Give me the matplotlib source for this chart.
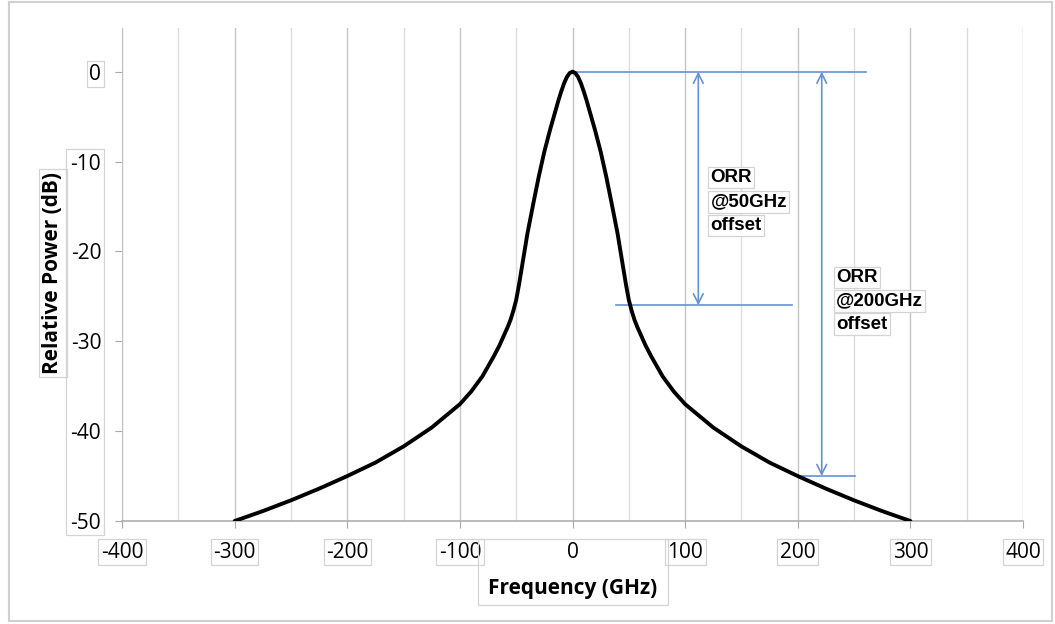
import matplotlib.pyplot as plt
from matplotlib.patches import Rectangle
from matplotlib.ticker import MultipleLocator

plt.rcParams['axes.unicode_minus'] = False

# ─── Data ────────────────────────────────────────────────────────────────────

freq = [-300, -275, -250, -225, -200, -175, -150, -125, -100, -90, -80, -70,
        -65, -60, -57.5, -55, -52.5, -50, -47.5, -45, -42.5, -40, -35, -30,
        -25, -20, -15, -12.5, -10, -7.5, -5, -2.5, 0,
        2.5, 5, 7.5, 10, 12.5, 15, 20, 25, 30, 35, 40, 42.5, 45, 47.5, 50,
        52.5, 55, 57.5, 60, 65, 70, 80, 90, 100, 125, 150, 175, 200, 225,
        250, 275, 300]
power = [-50.0, -48.9, -47.7, -46.4, -45.0, -43.5, -41.7, -39.6, -37.0, -35.6, -33.9, -31.7,
         -30.5, -29.1, -28.4, -27.6, -26.6, -25.4, -23.7, -21.8, -19.9, -18.0, -14.8, -11.7,
         -8.9, -6.5, -4.3, -3.2, -2.2, -1.3, -0.6, -0.15, 0.0,
         -0.15, -0.6, -1.3, -2.2, -3.2, -4.3, -6.5, -8.9, -11.7, -14.8, -18.0, -19.9, -21.8,
         -23.7, -25.4, -26.6, -27.6, -28.4, -29.1, -30.5, -31.7, -33.9, -35.6, -37.0,
         -39.6, -41.7, -43.5, -45.0, -46.4, -47.7, -48.9, -50.0]

x_ticks = [-400, -300, -200, -100, 0, 100, 200, 300, 400]
y_ticks = [0, -10, -20, -30, -40, -50]

# ORR markers: offset (GHz), rejection level (dB)
orr_offsets = [50, 200]
orr_levels = [-26, -45]
orr_labels = [['ORR', '@50GHz', 'offset'], ['ORR', '@200GHz', 'offset']]

# ─── Style ───────────────────────────────────────────────────────────────────

azul = '#6592d2'
borda = '#d4d4d4'
caixa = dict(boxstyle='square,pad=0.12', fc='white', ec=borda, lw=0.9)
caixa_rot = dict(boxstyle='square,pad=0.15', fc='white', ec=borda, lw=0.9)

W, H = 1055, 624
fig = plt.figure(figsize=(W / 100, H / 100), dpi=100)
ax = fig.add_axes([122 / W, 1 - 521 / H, 901 / W, 493 / H])


def caixa_px(x0, y0, x1, y1):
    """Retângulo em pixels (origem no topo esquerdo)."""
    fig.patches.append(Rectangle((x0, H - y1), x1 - x0, y1 - y0, transform=None,
                                 fill=False, ec=borda, lw=0.9, zorder=0))


fig.patches.append(Rectangle((9, 3), 1043, 619, transform=None, fill=False,
                             ec='#d0d0d0', lw=1.5))
# caixas agrupadas que o Excel desenhou em volta dos rótulos
caixa_px(65.7, 149, 104, 535)
caixa_px(478, 539, 668, 605)

# ─── Curve ───────────────────────────────────────────────────────────────────

ax.plot(freq, power, color='black', lw=2.8, solid_capstyle='round',
        solid_joinstyle='round', zorder=4)

ax.set_xlim(-400, 400)
ax.set_ylim(-50, 4.86)
ax.set_xticks(x_ticks)
ax.set_yticks(y_ticks)
ax.xaxis.set_minor_locator(MultipleLocator(50))

ax.grid(True, axis='x', which='major', color='#c4c4c4', lw=1.0)
ax.grid(True, axis='x', which='minor', color='#dcdcdc', lw=1.0)
ax.set_axisbelow(True)

for s in ['top', 'right']:
    ax.spines[s].set_visible(False)
ax.spines['left'].set_color('#c4c4c4')
ax.spines['bottom'].set_color('#a8a8a8')
ax.spines['bottom'].set_linewidth(1.1)

ax.tick_params(axis='x', which='major', length=5, color='#a8a8a8', pad=10,
               labelsize=15)
ax.tick_params(axis='x', which='minor', length=0)
ax.tick_params(axis='y', length=5, color='#a8a8a8', pad=10, labelsize=15)

for lab in ax.get_xticklabels() + ax.get_yticklabels():
    lab.set_fontfamily('Open Sans')
for lab, v in zip(ax.get_xticklabels(), x_ticks):
    if v != 0:
        lab.set_bbox(caixa)
ax.get_yticklabels()[0].set_bbox(caixa)

xl = ax.set_xlabel('Frequency (GHz)', fontsize=15, fontweight='bold',
                   fontfamily='Open Sans')
ax.xaxis.set_label_coords(0.5, -0.136)
xl.set_va('center')
yl = ax.set_ylabel('Relative Power (dB)', fontsize=15, fontweight='bold',
                   fontfamily='Open Sans', bbox=caixa_rot)
ax.yaxis.set_label_coords(-0.0766, 0.503)
yl.set_va('center')

# ─── ORR annotations ─────────────────────────────────────────────────────────

ax.plot([0, 261], [0, 0], color=azul, lw=1.2, zorder=3)
ax.plot([39, 195], [orr_levels[0], orr_levels[0]], color=azul, lw=1.2, zorder=3)
ax.plot([199, 251], [orr_levels[1], orr_levels[1]], color=azul, lw=1.2, zorder=3)

arrow_x = [111.7, 221.3]
text_x = [122.5, 234]
text_y = [[-11.8, -14.5, -17.1], [-22.9, -25.5, -28.1]]

for k in range(len(orr_offsets)):
    ax.annotate('', xy=(arrow_x[k], orr_levels[k]), xytext=(arrow_x[k], 0),
                arrowprops=dict(arrowstyle='<->,head_length=0.7,head_width=0.35',
                                color=azul, lw=1.2, shrinkA=0, shrinkB=0),
                zorder=3)
    for linha, yy in zip(orr_labels[k], text_y[k]):
        ax.text(text_x[k], yy, linha, ha='left', va='center', fontsize=13.5,
                fontweight='bold', fontfamily='Liberation Sans', bbox=caixa,
                zorder=5)

plt.savefig('out.png', dpi=100)
